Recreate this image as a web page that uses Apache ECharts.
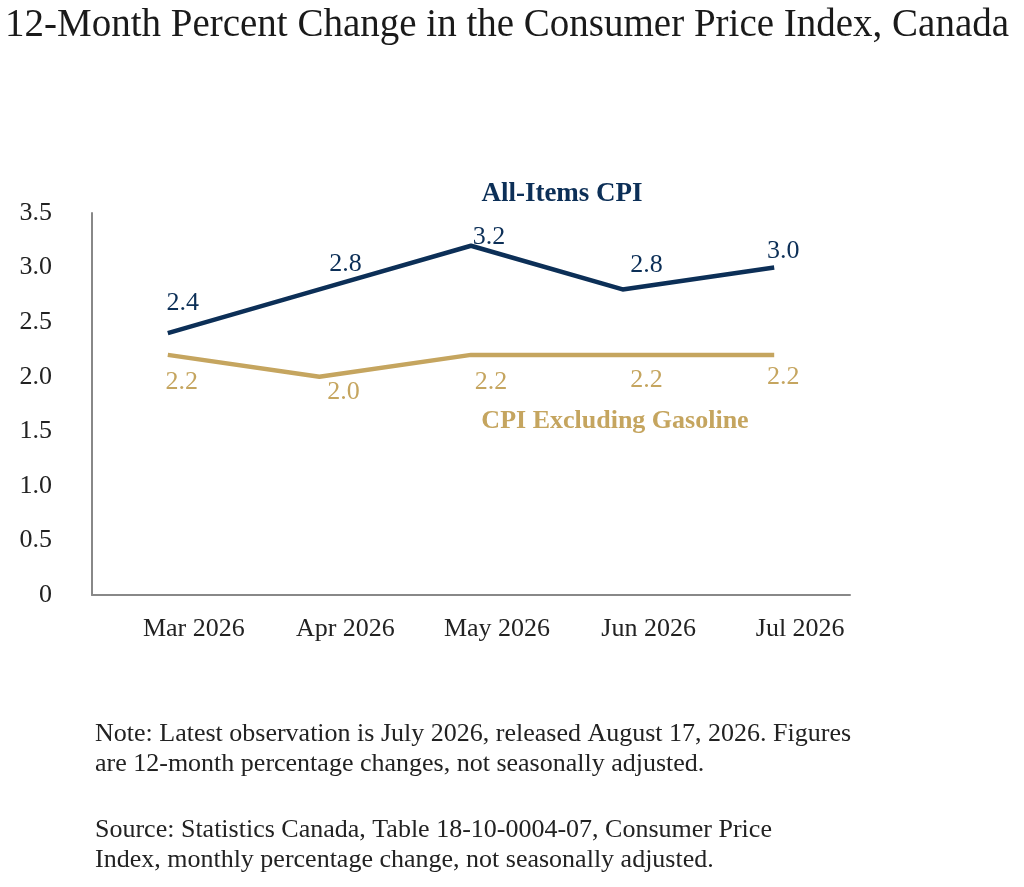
<!DOCTYPE html>
<html>
<head>
<meta charset="utf-8">
<script src="https://cdn.jsdelivr.net/npm/echarts@6/dist/echarts.min.js"></script>
<style>
  html, body { margin: 0; padding: 0; background: #fff; }
  #chart { width: 1024px; height: 887px; }
</style>
</head>
<body>
<div id="chart"></div>
<script>
// chart values
var months = ['Mar 2026', 'Apr 2026', 'May 2026', 'Jun 2026', 'Jul 2026'];
var allItems = [2.4, 2.8, 3.2, 2.8, 3.0];
var exGasoline = [2.2, 2.0, 2.2, 2.2, 2.2];
var yTicks = [0, 0.5, 1.0, 1.5, 2.0, 2.5, 3.0, 3.5];

// label nudges, kept apart from the values
var allItemsOffsets = [[15, -12], [26, -7], [18, 9], [24, -6], [9, 2]];
var exGasOffsets = [[14, 9], [24, -3], [20, 9], [24, 7], [9, 4]];

var navy = '#0c2f57';
var gold = '#c5a55f';
var font = '"Liberation Serif", "DejaVu Serif", serif';

function withLabels(values, offsets, pos) {
  return values.map(function (v, i) {
    return { value: v, label: { position: pos, offset: offsets[i] } };
  });
}

var chart = echarts.init(document.getElementById('chart'));
chart.setOption({
  backgroundColor: '#fff',
  animation: false,
  textStyle: { fontFamily: font },
  title: [
    {
      text: '12-Month Percent Change in the Consumer Price Index, Canada',
      left: 0, top: 1,
      textStyle: { fontFamily: font, fontSize: 39, fontWeight: 'normal', color: '#1a1a1a' }
    },
    {
      text: 'All-Items CPI',
      left: 557, top: 176, textAlign: 'center',
      textStyle: { fontFamily: font, fontSize: 27, fontWeight: 'bold', color: navy }
    },
    {
      text: 'CPI Excluding Gasoline',
      left: 610, top: 403, textAlign: 'center',
      textStyle: { fontFamily: font, fontSize: 26, fontWeight: 'bold', color: gold }
    }
  ],
  grid: { left: 92, right: 174, top: 213, bottom: 292, containLabel: false },
  xAxis: {
    type: 'category',
    data: months,
    boundaryGap: true,
    axisLine: { lineStyle: { color: '#888', width: 2 } },
    axisTick: { show: false },
    axisLabel: {
      color: '#222', fontSize: 26, fontFamily: font, margin: 21,
      padding: [0, 0, 0, 52]
    },
    splitLine: { show: false }
  },
  yAxis: {
    type: 'value',
    min: 0, max: 3.5, interval: 0.5,
    axisLine: { show: true, lineStyle: { color: '#888', width: 2 } },
    axisTick: { show: false },
    splitLine: { show: false },
    axisLabel: {
      color: '#222', fontSize: 26, fontFamily: font, margin: 40,
      formatter: function (v) {
        return v === yTicks[0] ? '0' : v.toFixed(1);
      }
    }
  },
  series: [
    {
      name: 'All-Items CPI',
      type: 'line',
      data: withLabels(allItems, allItemsOffsets, 'top'),
      symbol: 'circle',
      symbolSize: 0,
      showSymbol: true,
      lineStyle: { color: navy, width: 4.5 },
      itemStyle: { color: navy },
      label: {
        show: true, color: navy, fontSize: 26, fontFamily: font,
        formatter: function (p) { return p.value.toFixed(1); }
      }
    },
    {
      name: 'CPI Excluding Gasoline',
      type: 'line',
      data: withLabels(exGasoline, exGasOffsets, 'bottom'),
      symbol: 'circle',
      symbolSize: 0,
      showSymbol: true,
      lineStyle: { color: gold, width: 4.5 },
      itemStyle: { color: gold },
      label: {
        show: true, color: gold, fontSize: 26, fontFamily: font,
        formatter: function (p) { return p.value.toFixed(1); }
      }
    }
  ],
  graphic: [
    {
      type: 'text', left: 95, top: 719,
      style: {
        text: 'Note: Latest observation is July 2026, released August 17, 2026. Figures\nare 12-month percentage changes, not seasonally adjusted.',
        font: '26px ' + font, fill: '#222', lineHeight: 30
      }
    },
    {
      type: 'text', left: 95, top: 815,
      style: {
        text: 'Source: Statistics Canada, Table 18-10-0004-07, Consumer Price\nIndex, monthly percentage change, not seasonally adjusted.',
        font: '26px ' + font, fill: '#222', lineHeight: 30
      }
    }
  ]
});
</script>
</body>
</html>
